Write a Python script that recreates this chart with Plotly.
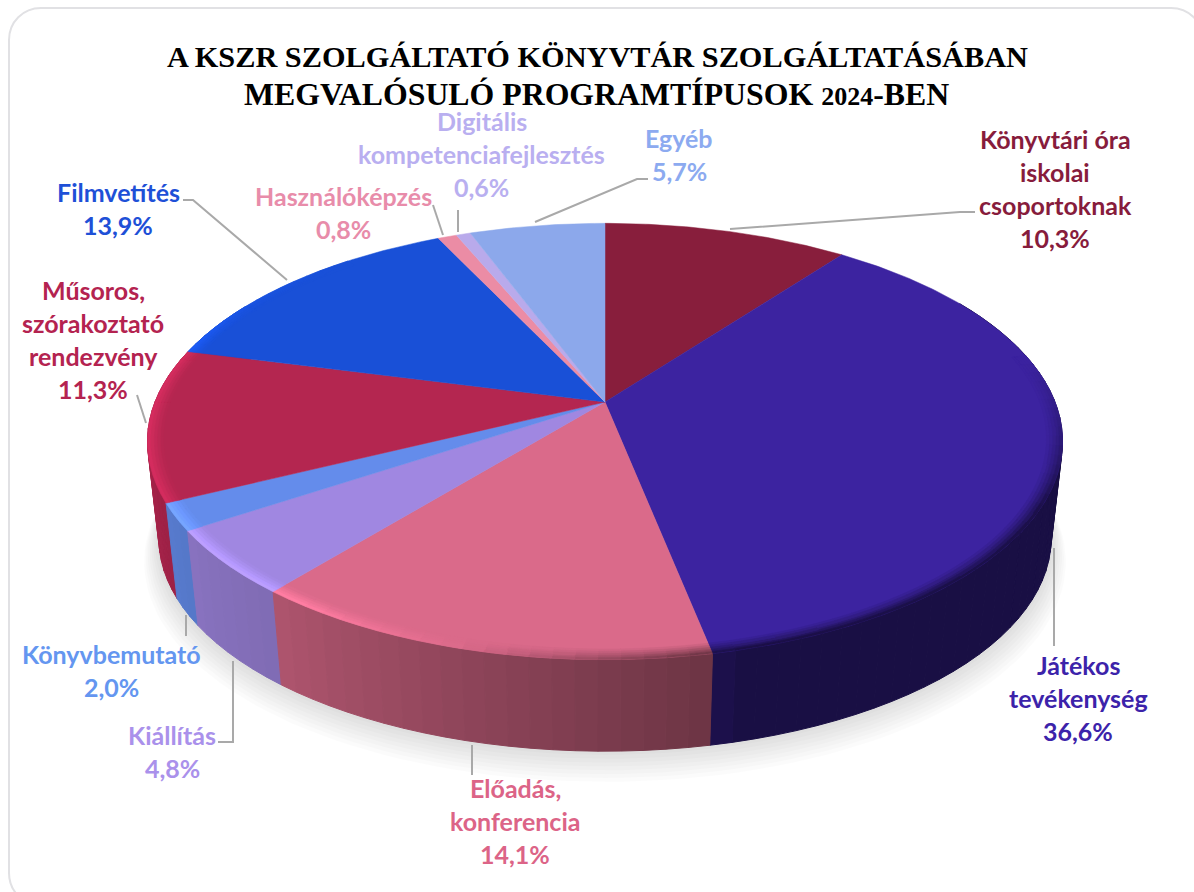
import numpy as np
import plotly.graph_objects as go

# ---- data ----
categories = ["Könyvtári óra iskolai csoportoknak", "Játékos tevékenység", "Előadás, konferencia",
              "Kiállítás", "Könyvbemutató", "Műsoros, szórakoztató rendezvény", "Filmvetítés",
              "Használóképzés", "Digitális kompetenciafejlesztés", "Egyéb"]
values = [10.3, 36.6, 14.1, 4.8, 2.0, 11.3, 13.9, 0.8, 0.6, 5.7]
value_labels = ["10,3%", "36,6%", "14,1%", "4,8%", "2,0%", "11,3%", "13,9%", "0,8%", "0,6%", "5,7%"]
label_lines = [["Könyvtári óra", "iskolai", "csoportoknak"], ["Játékos", "tevékenység"],
               ["Előadás,", "konferencia"], ["Kiállítás"], ["Könyvbemutató"],
               ["Műsoros,", "szórakoztató", "rendezvény"], ["Filmvetítés"], ["Használóképzés"],
               ["Digitális", "kompetenciafejlesztés"], ["Egyéb"]]
title_lines = ["A KSZR SZOLGÁLTATÓ KÖNYVTÁR SZOLGÁLTATÁSÁBAN",
               "MEGVALÓSULÓ PROGRAMTÍPUSOK <span style='font-size:26px'>2024</span>-BEN"]

# ---- styles ----
top_colors = [(136, 30, 60), (60, 35, 160), (218, 106, 138), (160, 135, 225), (100, 140, 235),
              (180, 38, 80), (25, 80, 215), (235, 140, 165), (185, 170, 235), (140, 168, 235)]
label_colors = ["#871c3c", "#3c23aa", "#dc6487", "#aa91eb", "#6496f0", "#b42350", "#1e50d7",
                "#e88caa", "#b9aff0", "#8caaf0"]
label_anchor = [(1055, 139), (1078, 665), (515, 788), (172, 735), (111.5, 654),
                (93, 290), (118, 192), (343, 196), (481.5, 121), (679, 138)]
LINE_GAP = 33.1
leaders = [[(730, 229), (960, 212), (975, 212)], [(1054, 548), (1054, 646)], [(472, 745), (472, 775)],
           [(233, 661), (233, 742), (218, 742)], [(186, 615), (186, 636)], [(137, 395), (146, 423)],
           [(183, 200), (193, 200), (287, 280)], [(433, 205), (443, 235)], [(458, 210), (458, 232)],
           [(535, 222), (637, 179), (648, 179)]]

# ---- projection of the tilted disc ----
CX, CY, A, B, K = 605, 402, 211, 450, 0.181
WALL_DY, WALL_S = 98.0, 0.975


def project(theta_deg, r=1.0, bottom=False, extra_dy=0.0):
    t = np.radians(theta_deg)
    d = 1 + K * r * np.cos(t)
    x, y = B * r * np.sin(t) / d, -A * r * np.cos(t) / d
    if bottom:
        return CX + WALL_S * x, CY + WALL_S * y + WALL_DY + extra_dy
    return CX + x, CY + y


def rgb(c):
    return "rgb(%d,%d,%d)" % tuple(int(min(255, max(0, v))) for v in c)


def shade(c, m):
    return tuple(v * m for v in c)


def wall_factor(th):
    return np.interp(th, [90, 165, 169, 219, 245, 265, 290], [.43, .43, .5, .8, .88, .97, 1.0])


def rim_factor(th):
    return np.interp(th, [78, 100, 118, 165, 180, 195, 215, 280, 300, 320],
                     [1, .75, .47, .45, .7, 1.0, 1.18, 1.18, 1.05, 1.0])


total = sum(values)
edges = np.concatenate([[0], np.cumsum(values)]) / total * 360

fig = go.Figure()


def poly(xs, ys, color, width=1):
    fig.add_trace(go.Scatter(x=xs, y=ys, mode="lines", fill="toself", fillcolor=color,
                             line=dict(color=color, width=width), hoverinfo="skip", showlegend=False))


# soft shadow under the disc
arc = np.linspace(0, 360, 181)
for i in range(9):
    r = 1.0 + 0.004 * i
    px, py = project(arc, r, bottom=True, extra_dy=2.6 * i)
    fig.add_trace(go.Scatter(x=px, y=py, mode="lines", fill="toself", fillcolor="rgba(0,0,0,0.016)",
                             line=dict(width=0), hoverinfo="skip", showlegend=False))

# side wall, painted back to front
quads = []
for i, c in enumerate(top_colors):
    a0, a1 = edges[i], edges[i + 1]
    n = max(1, int(np.ceil((a1 - a0) / 2.5)))
    steps = np.linspace(a0, a1, n + 1)
    for s0, s1 in zip(steps[:-1], steps[1:]):
        mid = (s0 + s1) / 2
        if 60 < mid < 300:
            quads.append((np.cos(np.radians(mid)), s0, s1, rgb(shade(c, wall_factor(mid)))))
quads.sort(key=lambda q: -q[0])
for _, s0, s1, col in quads:
    t = np.array([s0, s1])
    tx, ty = project(t)
    bx, by = project(t, bottom=True)
    poly([tx[0], tx[1], bx[1], bx[0], tx[0]], [ty[0], ty[1], by[1], by[0], ty[0]], col)

# top face
for i, c in enumerate(top_colors):
    t = np.linspace(edges[i], edges[i + 1], max(3, int((edges[i + 1] - edges[i]) * 2)))
    px, py = project(t)
    poly([CX, *px, CX], [CY, *py, CY], rgb(c), width=0.5)

# bevel along the visible rim
bands = np.linspace(0.966, 1.0, 6)
groups = {}
for i, c in enumerate(top_colors):
    a0, a1 = edges[i], edges[i + 1]
    n = max(1, int(np.ceil((a1 - a0) / 2.5)))
    steps = np.linspace(a0, a1, n + 1)
    for s0, s1 in zip(steps[:-1], steps[1:]):
        mid = (s0 + s1) / 2
        if not 78 < mid < 320:
            continue
        for b in range(5):
            frac = (b + 1) / 5
            m = 1 + (rim_factor(mid) - 1) * frac ** 1.3
            col = rgb(shade(c, m))
            x0, y0 = project(np.array([s0, s1]), bands[b])
            x1, y1 = project(np.array([s0, s1]), bands[b + 1])
            g = groups.setdefault(col, ([], []))
            g[0].extend([x0[0], x0[1], x1[1], x1[0], x0[0], None])
            g[1].extend([y0[0], y0[1], y1[1], y1[0], y0[0], None])
for col, (gx, gy) in groups.items():
    poly(gx, gy, col, width=0.6)

# labels
annotations = []
for lines, val, (ax, ay), col in zip(label_lines, value_labels, label_anchor, label_colors):
    for j, txt in enumerate(lines + [val]):
        annotations.append(dict(x=ax, y=ay + j * LINE_GAP, text="<b>%s</b>" % txt, xref="x", yref="y",
                                showarrow=False, xanchor="center", yanchor="middle",
                                font=dict(family="Lato", size=25, color=col)))
for line, tx, ty, size in zip(title_lines, [597.5, 596.5], [57, 94], [30.3, 31.8]):
    annotations.append(dict(x=tx, y=ty, text="<b>%s</b>" % line, xref="x", yref="y", showarrow=False,
                            xanchor="center", yanchor="middle",
                            font=dict(family="Liberation Serif", size=size, color="#000000")))

# leader lines and the rounded card
shapes = [dict(type="path", layer="below", xref="x", yref="y",
               path="M 9 40 C 9 22 23 8 41 8 L 1171 8 C 1189 8 1203 22 1203 40 L 1203 873 "
                    "C 1203 891 1189 905 1171 905 L 41 905 C 23 905 9 891 9 873 Z",
               line=dict(color="#e1e1e4", width=2), fillcolor="#ffffff")]
for pts in leaders:
    path = "M " + " L ".join("%g %g" % p for p in pts)
    shapes.append(dict(type="path", xref="x", yref="y", path=path, line=dict(color="#a9a9a9", width=2)))

fig.update_layout(width=1194, height=892, margin=dict(l=0, r=0, t=0, b=0),
                  paper_bgcolor="#ffffff", plot_bgcolor="#ffffff", showlegend=False,
                  xaxis=dict(range=[0, 1194], visible=False, fixedrange=True),
                  yaxis=dict(range=[892, 0], visible=False, fixedrange=True),
                  annotations=annotations, shapes=shapes)
fig.write_html("out.html", config=dict(displayModeBar=False),
               post_script="document.body.style.margin='0';document.body.style.overflow='hidden';")
